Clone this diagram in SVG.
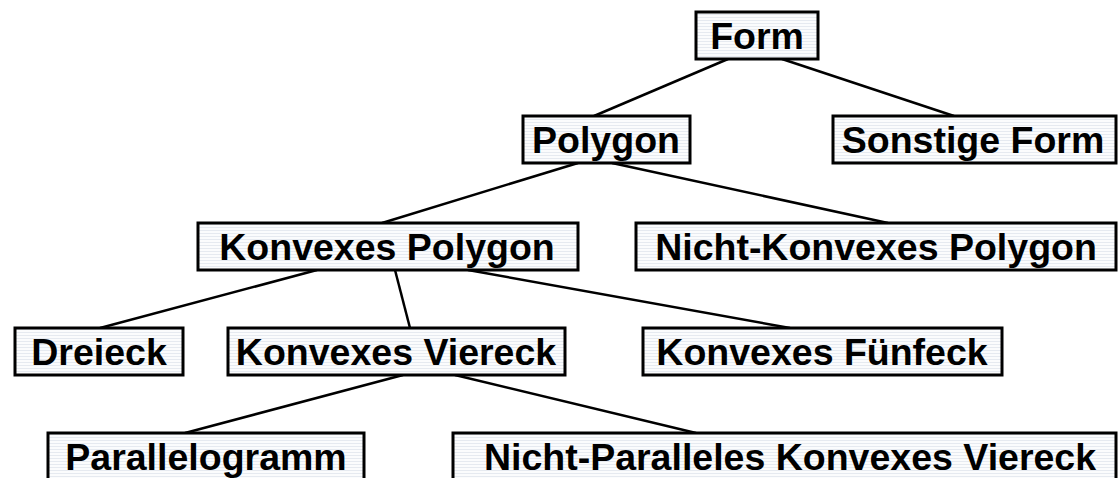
<svg xmlns="http://www.w3.org/2000/svg" width="1118" height="478" viewBox="0 0 1118 478">
<defs>
<pattern id="stripes" width="8" height="3" patternUnits="userSpaceOnUse">
<rect width="8" height="3" fill="#fbfcfd"/>
<rect y="2" width="8" height="1" fill="#e6eaf0"/>
</pattern>
<style>
.box{fill:url(#stripes);stroke:#000;stroke-width:3}
.lbl{font-family:"Liberation Sans",Arial,sans-serif;font-weight:bold;font-size:37.5px;fill:#000;text-anchor:middle}
.edge{stroke:#000;stroke-width:2.5;fill:none}
</style>
</defs>
<rect width="1118" height="478" fill="#fff"/>
<g id="connectors">
<line class="edge" x1="728" y1="59" x2="594" y2="116"/>
<line class="edge" x1="782" y1="59" x2="954" y2="116"/>
<line class="edge" x1="578" y1="163" x2="382" y2="223"/>
<line class="edge" x1="612" y1="163" x2="888" y2="223"/>
<line class="edge" x1="317" y1="270" x2="100" y2="328"/>
<line class="edge" x1="395" y1="270" x2="410" y2="328"/>
<line class="edge" x1="468" y1="270" x2="790" y2="328"/>
<line class="edge" x1="403" y1="375" x2="185" y2="433"/>
<line class="edge" x1="455" y1="375" x2="696" y2="433"/>
</g>
<g id="form"><rect class="box" x="696" y="12" width="122" height="47"/><text class="lbl" x="757" y="49">Form</text></g>
<g id="polygon"><rect class="box" x="523" y="116" width="167" height="47"/><text class="lbl" x="606" y="153">Polygon</text></g>
<g id="sonstige"><rect class="box" x="833" y="116" width="283" height="47"/><text class="lbl" x="973" y="153">Sonstige Form</text></g>
<g id="konvexes-polygon"><rect class="box" x="198" y="223" width="380" height="47"/><text class="lbl" x="387" y="260">Konvexes Polygon</text></g>
<g id="nicht-konvexes"><rect class="box" x="636" y="223" width="480" height="47"/><text class="lbl" x="876" y="260">Nicht-Konvexes Polygon</text></g>
<g id="dreieck"><rect class="box" x="15" y="328" width="168" height="47"/><text class="lbl" x="99" y="365">Dreieck</text></g>
<g id="konvexes-viereck"><rect class="box" x="228" y="328" width="337" height="47"/><text class="lbl" x="396" y="365">Konvexes Viereck</text></g>
<g id="fuenfeck"><rect class="box" x="643" y="328" width="359" height="47"/><text class="lbl" x="822" y="365">Konvexes Fünfeck</text></g>
<g id="parallelogramm"><rect class="box" x="48" y="433" width="316" height="50"/><text class="lbl" x="206" y="470">Parallelogramm</text></g>
<g id="nicht-parallel"><rect class="box" x="453" y="433" width="663" height="50"/><text class="lbl" x="790" y="470">Nicht-Paralleles Konvexes Viereck</text></g>
</svg>
